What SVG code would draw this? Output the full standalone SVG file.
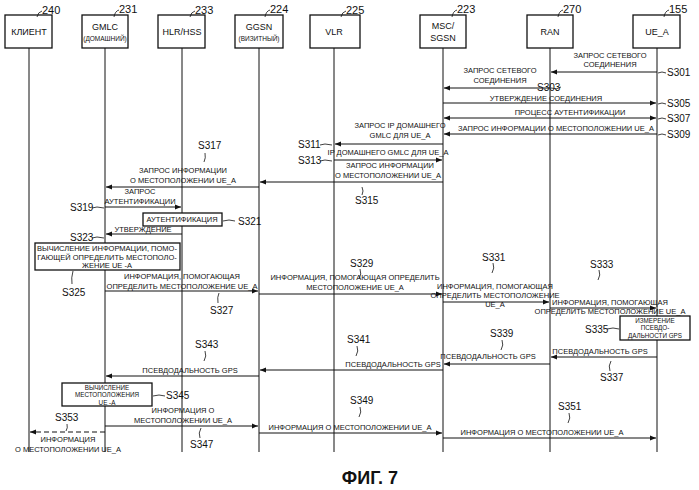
<svg xmlns="http://www.w3.org/2000/svg" width="699" height="490" viewBox="0 0 699 490">
<style>
text{font-family:"Liberation Sans",Arial,sans-serif;fill:#111}
.n{font-size:9px;text-anchor:middle}
.sm{font-size:6.5px;text-anchor:middle}
.m{font-size:7.5px;text-anchor:middle}
.x{font-size:6.3px;text-anchor:middle}
.s{font-size:10px}
.r{font-size:11px}
.box{fill:#fff;stroke:#111;stroke-width:1.3}
.ll{stroke:#111;stroke-width:1}
.a{stroke:#111;stroke-width:1;fill:none;marker-end:url(#ah)}
.t{stroke:#111;stroke-width:0.8;fill:none}
</style>
<defs>
<marker id="ah" viewBox="0 0 10 10" refX="10" refY="5" markerWidth="8" markerHeight="6" orient="auto"><path d="M0,1L10,5L0,9z" fill="#111"/></marker>
<marker id="as" viewBox="0 0 10 10" refX="0" refY="5" markerWidth="8" markerHeight="6" orient="auto"><path d="M10,1L0,5L10,9z" fill="#111"/></marker>
</defs>
<g id="lifelines">
<line class="ll" x1="29" y1="48" x2="29" y2="452"/>
<line class="ll" x1="105" y1="48" x2="105" y2="452"/>
<line class="ll" x1="182" y1="48" x2="182" y2="452"/>
<line class="ll" x1="259" y1="48" x2="259" y2="452"/>
<line class="ll" x1="334" y1="48" x2="334" y2="452"/>
<line class="ll" x1="443" y1="48" x2="443" y2="452"/>
<line class="ll" x1="550" y1="48" x2="550" y2="452"/>
<line class="ll" x1="657" y1="48" x2="657" y2="452"/>
</g>
<g id="n240"><rect class="box" x="5" y="15" width="47" height="33"/><text class="n" x="29" y="35">КЛИЕНТ</text><path class="t" d="M37,17 Q38,12 42,11"/><text class="r" x="42" y="14">240</text></g>
<g id="n231"><rect class="box" x="82" y="15" width="46" height="33"/><text class="n" x="105" y="30">GMLC</text><text class="sm" x="105" y="41">(ДОМАШНИЙ)</text><path class="t" d="M114,17 Q115,11 119,10"/><text class="r" x="119" y="13">231</text></g>
<g id="n233"><rect class="box" x="158" y="15" width="47" height="33"/><text class="n" x="182" y="35">HLR/HSS</text><path class="t" d="M190,17 Q191,12 195,11"/><text class="r" x="195" y="14">233</text></g>
<g id="n224"><rect class="box" x="235" y="15" width="48" height="33"/><text class="n" x="259" y="30">GGSN</text><text class="sm" x="259" y="41">(ВИЗИТНЫЙ)</text><path class="t" d="M265,17 Q266,11 270,10"/><text class="r" x="270" y="13">224</text></g>
<g id="n225"><rect class="box" x="310" y="15" width="50" height="33"/><text class="n" x="334" y="35">VLR</text><path class="t" d="M341,17 Q342,12 346,11"/><text class="r" x="346" y="14">225</text></g>
<g id="n223"><rect class="box" x="420" y="15" width="46" height="33"/><text class="n" x="443" y="29">MSC/</text><text class="n" x="443" y="41">SGSN</text><path class="t" d="M452,17 Q453,11 457,10"/><text class="r" x="457" y="13">223</text></g>
<g id="n270"><rect class="box" x="527" y="15" width="46" height="33"/><text class="n" x="550" y="35">RAN</text><path class="t" d="M558,17 Q559,11 563,10"/><text class="r" x="563" y="13">270</text></g>
<g id="n155"><rect class="box" x="633" y="15" width="47" height="33"/><text class="n" x="657" y="35">UE_A</text><path class="t" d="M664,17 Q665,11 669,10"/><text class="r" x="669" y="13">155</text></g>

<g id="connectors">
<line class="a" x1="657" y1="72" x2="551" y2="72"/>
<line class="a" x1="550" y1="88" x2="444" y2="88"/>
<line class="a" x1="443" y1="103" x2="656" y2="103"/>
<line class="a" x1="444" y1="118" x2="656" y2="118" marker-start="url(#as)"/>
<line class="a" x1="657" y1="134" x2="444" y2="134"/>
<line class="a" x1="443" y1="144" x2="335" y2="144"/>
<line class="a" x1="334" y1="160" x2="442" y2="160"/>
<line class="a" x1="443" y1="182" x2="260" y2="182"/>
<line class="a" x1="259" y1="187" x2="106" y2="187"/>
<line class="a" x1="105" y1="207" x2="181" y2="207"/>
<line class="a" x1="182" y1="234" x2="106" y2="234"/>
<line class="a" x1="105" y1="291" x2="258" y2="291"/>
<line class="a" x1="259" y1="294" x2="442" y2="294"/>
<line class="a" x1="443" y1="302" x2="549" y2="302"/>
<line class="a" x1="550" y1="308" x2="656" y2="308"/>
<line class="a" x1="657" y1="357" x2="551" y2="357"/>
<line class="a" x1="550" y1="364" x2="444" y2="364"/>
<line class="a" x1="443" y1="370" x2="260" y2="370"/>
<line class="a" x1="259" y1="376" x2="106" y2="376"/>
<line class="a" x1="105" y1="426" x2="258" y2="426"/>
<line class="a" x1="259" y1="433" x2="442" y2="433"/>
<line class="a" x1="443" y1="438" x2="656" y2="438"/>
<line class="a" x1="105" y1="432" x2="30" y2="432" stroke-dasharray="5,3"/>
</g>

<g id="labels">
<text class="m" x="610" y="58">ЗАПРОС СЕТЕВОГО</text><text class="m" x="610" y="67">СОЕДИНЕНИЯ</text>
<text class="m" x="500" y="73">ЗАПРОС СЕТЕВОГО</text><text class="m" x="500" y="83">СОЕДИНЕНИЯ</text>
<text class="m" x="546" y="101">УТВЕРЖДЕНИЕ СОЕДИНЕНИЯ</text>
<text class="m" x="570" y="115">ПРОЦЕСС АУТЕНТИФИКАЦИИ</text>
<text class="m" x="556" y="131">ЗАПРОС ИНФОРМАЦИИ О МЕСТОПОЛОЖЕНИИ UE_A</text>
<text class="m" x="400" y="128">ЗАПРОС IP ДОМАШНЕГО</text><text class="m" x="400" y="138">GMLC ДЛЯ UE_A</text>
<text class="m" x="388" y="155">IP ДОМАШНЕГО GMLC ДЛЯ UE_A</text>
<text class="m" x="390" y="168">ЗАПРОС ИНФОРМАЦИИ</text><text class="m" x="388" y="178">О МЕСТОПОЛОЖЕНИИ UE_A</text>
<text class="m" x="183" y="173">ЗАПРОС ИНФОРМАЦИИ</text><text class="m" x="183" y="183">О МЕСТОПОЛОЖЕНИИ UE_A</text>
<text class="m" x="140" y="194">ЗАПРОС</text><text class="m" x="140" y="204">АУТЕНТИФИКАЦИИ</text>
<text class="m" x="143" y="232">УТВЕРЖДЕНИЕ</text>
<text class="m" x="182" y="279">ИНФОРМАЦИЯ, ПОМОГАЮЩАЯ</text><text class="m" x="182" y="289">ОПРЕДЕЛИТЬ МЕСТОПОЛОЖЕНИЕ UE_A</text>
<text class="m" x="355" y="280">ИНФОРМАЦИЯ, ПОМОГАЮЩАЯ ОПРЕДЕЛИТЬ</text><text class="m" x="355" y="290">МЕСТОПОЛОЖЕНИЕ UE_A</text>
<text class="m" x="495" y="289">ИНФОРМАЦИЯ, ПОМОГАЮЩАЯ</text><text class="m" x="495" y="298">ОПРЕДЕЛИТЬ МЕСТОПОЛОЖЕНИЕ</text><text class="m" x="495" y="307">UE_A</text>
<text class="m" x="610" y="305">ИНФОРМАЦИЯ, ПОМОГАЮЩАЯ</text><text class="m" x="610" y="314">ОПРЕДЕЛИТЬ МЕСТОПОЛОЖЕНИЕ UE_A</text>
<text class="m" x="600" y="354">ПСЕВДОДАЛЬНОСТЬ GPS</text>
<text class="m" x="488" y="359">ПСЕВДОДАЛЬНОСТЬ GPS</text>
<text class="m" x="393" y="367">ПСЕВДОДАЛЬНОСТЬ GPS</text>
<text class="m" x="190" y="373">ПСЕВДОДАЛЬНОСТЬ GPS</text>
<text class="m" x="183" y="413">ИНФОРМАЦИЯ О</text><text class="m" x="183" y="423">МЕСТОПОЛОЖЕНИИ UE_A</text>
<text class="m" x="350" y="430">ИНФОРМАЦИЯ О МЕСТОПОЛОЖЕНИИ UE_A</text>
<text class="m" x="542" y="435">ИНФОРМАЦИЯ О МЕСТОПОЛОЖЕНИИ UE_A</text>
<text class="m" x="68" y="442">ИНФОРМАЦИЯ</text><text class="m" x="68" y="452">О МЕСТОПОЛОЖЕНИИ UE_A</text>
</g>

<g id="b321"><rect class="box" x="143" y="213" width="79" height="13"/><text class="m" x="182" y="222">АУТЕНТИФИКАЦИЯ</text></g>
<g id="b325"><rect class="box" x="35" y="243" width="145" height="27"/><text class="m" x="107" y="251">ВЫЧИСЛЕНИЕ ИНФОРМАЦИИ, ПОМО-</text><text class="m" x="107" y="259.500">ГАЮЩЕЙ ОПРЕДЕЛИТЬ МЕСТОПОЛО-</text><text class="m" x="107" y="268">ЖЕНИЕ UE -A</text></g>
<g id="b335"><rect class="box" x="620" y="316" width="70" height="24"/><text class="x" x="655" y="322.500">ИЗМЕРЕНИЕ</text><text class="x" x="655" y="330">ПСЕВДО-</text><text class="x" x="655" y="337.500">ДАЛЬНОСТИ GPS</text></g>
<g id="b345"><rect class="box" x="62" y="383" width="90" height="23"/><text class="x" x="107" y="389.500">ВЫЧИСЛЕНИЕ</text><text class="x" x="107" y="397">МЕСТОПОЛОЖЕНИЯ</text><text class="x" x="107" y="404.500">UE -A</text></g>

<g id="steps">
<text class="s" x="667" y="76">S301</text><path class="t" d="M658,73 q4,-2 8,0"/>
<text class="s" x="537" y="91">S303</text><path class="t" d="M551,88 q6,2 10,-1"/>
<text class="s" x="667" y="107">S305</text><path class="t" d="M658,104 q4,-2 8,0"/>
<text class="s" x="667" y="122">S307</text><path class="t" d="M658,119 q4,-2 8,0"/>
<text class="s" x="667" y="138">S309</text><path class="t" d="M658,135 q4,-2 8,0"/>
<text class="s" x="298" y="148">S311</text><path class="t" d="M320,145 q4,-2 12,0"/>
<text class="s" x="298" y="164">S313</text><path class="t" d="M320,161 q4,-2 12,0"/>
<text class="s" x="355" y="204">S315</text><path class="t" d="M362,195 q2,-4 0,-8"/>
<text class="s" x="198" y="149">S317</text><path class="t" d="M205,153 q1,5 -1,9"/>
<text class="s" x="70" y="211">S319</text><path class="t" d="M92,208 q4,-2 12,0"/>
<text class="s" x="238" y="225">S321</text><path class="t" d="M223,221 q6,-2 12,0"/>
<text class="s" x="70" y="241">S323</text><path class="t" d="M92,238 q4,-2 12,0"/>
<text class="s" x="62" y="296">S325</text><path class="t" d="M72,284 q-1,-6 1,-13"/>
<text class="s" x="210" y="314">S327</text><path class="t" d="M218,303 q-1,-6 1,-10"/>
<text class="s" x="350" y="267">S329</text><path class="t" d="M360,269 q2,5 -1,10"/>
<text class="s" x="482" y="261">S331</text><path class="t" d="M493,263 q2,5 -1,10"/>
<text class="s" x="590" y="268">S333</text><path class="t" d="M599,270 q2,5 -1,10"/>
<text class="s" x="585" y="333">S335</text><path class="t" d="M607,329 q6,-2 12,0"/>
<text class="s" x="600" y="381">S337</text><path class="t" d="M610,371 q-2,-5 1,-10"/>
<text class="s" x="490" y="337">S339</text><path class="t" d="M502,340 q2,5 -1,10"/>
<text class="s" x="347" y="343">S341</text><path class="t" d="M357,346 q2,5 -1,10"/>
<text class="s" x="195" y="348">S343</text><path class="t" d="M205,351 q2,5 -1,10"/>
<text class="s" x="166" y="399">S345</text><path class="t" d="M153,396 q6,-2 12,0"/>
<text class="s" x="190" y="448">S347</text><path class="t" d="M200,438 q-2,-5 1,-10"/>
<text class="s" x="350" y="404">S349</text><path class="t" d="M360,407 q2,5 -1,10"/>
<text class="s" x="558" y="410">S351</text><path class="t" d="M569,413 q2,5 -1,10"/>
<text class="s" x="55" y="421">S353</text><path class="t" d="M67,424 q1,4 -1,7"/>
</g>
<text x="370" y="484" style="font-size:18px;font-weight:bold;text-anchor:middle">ФИГ. 7</text>
</svg>
